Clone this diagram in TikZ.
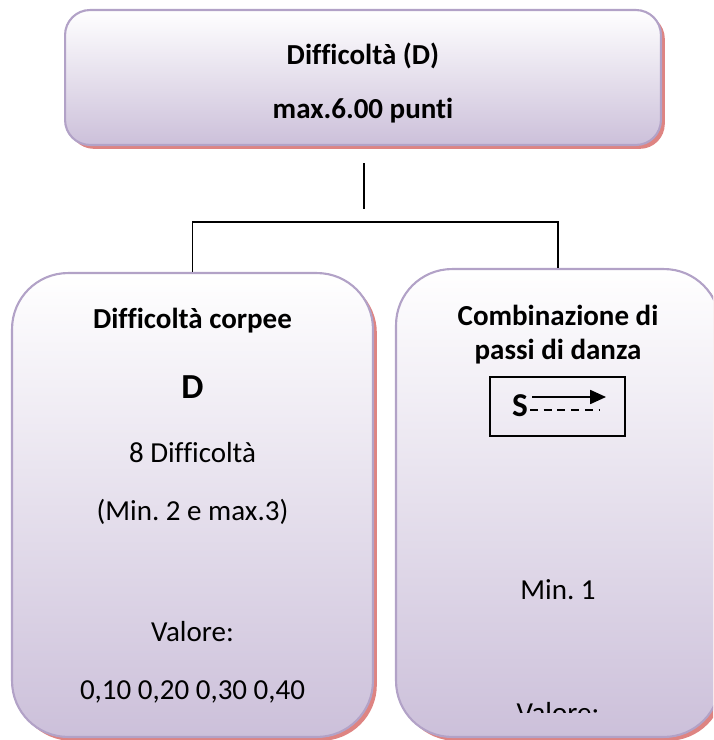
\documentclass[tikz,border=0pt]{standalone}
\usepackage{fontspec}
\setmainfont{Carlito}[Ligatures={NoCommon}]
\frenchspacing
\usetikzlibrary{shadows,arrows.meta}
\definecolor{boxline}{RGB}{178,162,199}
\definecolor{boxfill}{RGB}{204,192,218}
\definecolor{boxshade}{RGB}{222,132,130}
\tikzset{panel/.style={draw=boxline, line width=1.2pt, top color=white, bottom color=boxfill,
    drop shadow={shadow xshift=2.2pt, shadow yshift=-2.2pt, fill=boxshade, opacity=1}}}
\tikzset{txt/.style={inner sep=0pt, font=\fontsize{16.5}{20}\selectfont}}
\tikzset{btxt/.style={inner sep=0pt, font=\fontsize{16.5}{20}\selectfont\bfseries}}
\tikzset{link/.style={line width=0.85pt}}

\begin{document}
\begin{tikzpicture}[x=0.02cm, y=-0.02cm]
\clip (0,0) rectangle (713,740);
% boxes
\node[panel, rounded corners=0.5cm, minimum width=11.92cm, minimum height=2.7cm] (top) at (363,77.5) {};
\node[panel, rounded corners=1.12cm, minimum width=7.22cm, minimum height=9.28cm] (left) at (192.5,505) {};
\node[panel, rounded corners=1.12cm, minimum width=6.48cm, minimum height=9.36cm] (right) at (558,503) {};

% top box
\node[btxt] (title) at (363,56) {Difficoltà (D)};
\node[btxt] (maxpt) at (363,111) {max.6.00 punti};

% connectors
\coordinate (stem top) at (364,163);
\coordinate (stem end) at (364,209);
\draw[link] (stem top) -- (stem end);
\draw[link] (left.north) -- ++(0,-50) -| (right.north);

% left box
\node[btxt] (corpee) at (192.5,321) {Difficoltà corpee};
\node[inner sep=0pt, font=\fontsize{20}{24}\selectfont\bfseries] (bigD) at (192.5,387) {D};
\node[txt] (ndiff) at (192.5,453) {8 Difficoltà};
\node[txt] (minmax) at (192.5,512) {(Min. 2 e max.3)};
\node[txt] (valL) at (192.5,632) {Valore:};
\node[txt] (vals) at (192.5,692) {0,10 0,20 0,30 0,40};

% right box
\node[btxt] (comb) at (558,315) {Combinazione di};
\node[btxt] (passi) at (558,352) {passi di danza};
\node[draw, line width=0.85pt, minimum width=2.7cm, minimum height=1.18cm] (sym) at (557.5,406.5) {};
\node[inner sep=0pt, font=\fontsize{19}{22}\selectfont\bfseries] (S) at (520,406) {S};
\coordinate (arr a) at (532,397);
\coordinate (arr b) at (606,397);
\coordinate (dash a) at (530,410);
\coordinate (dash b) at (600,410);
\draw[line width=0.85pt, -{Triangle[length=9pt, width=8pt]}] (arr a) -- (arr b);
\draw[line width=1pt, dash pattern=on 4.5pt off 3.3pt] (dash a) -- (dash b);
\node[txt] (min1) at (558,590) {Min. 1};
\begin{scope}
  \clip (396,269) rectangle (720,712);
  \node[txt] (valR) at (558,713) {Valore:};
\end{scope}
\end{tikzpicture}
\end{document}
